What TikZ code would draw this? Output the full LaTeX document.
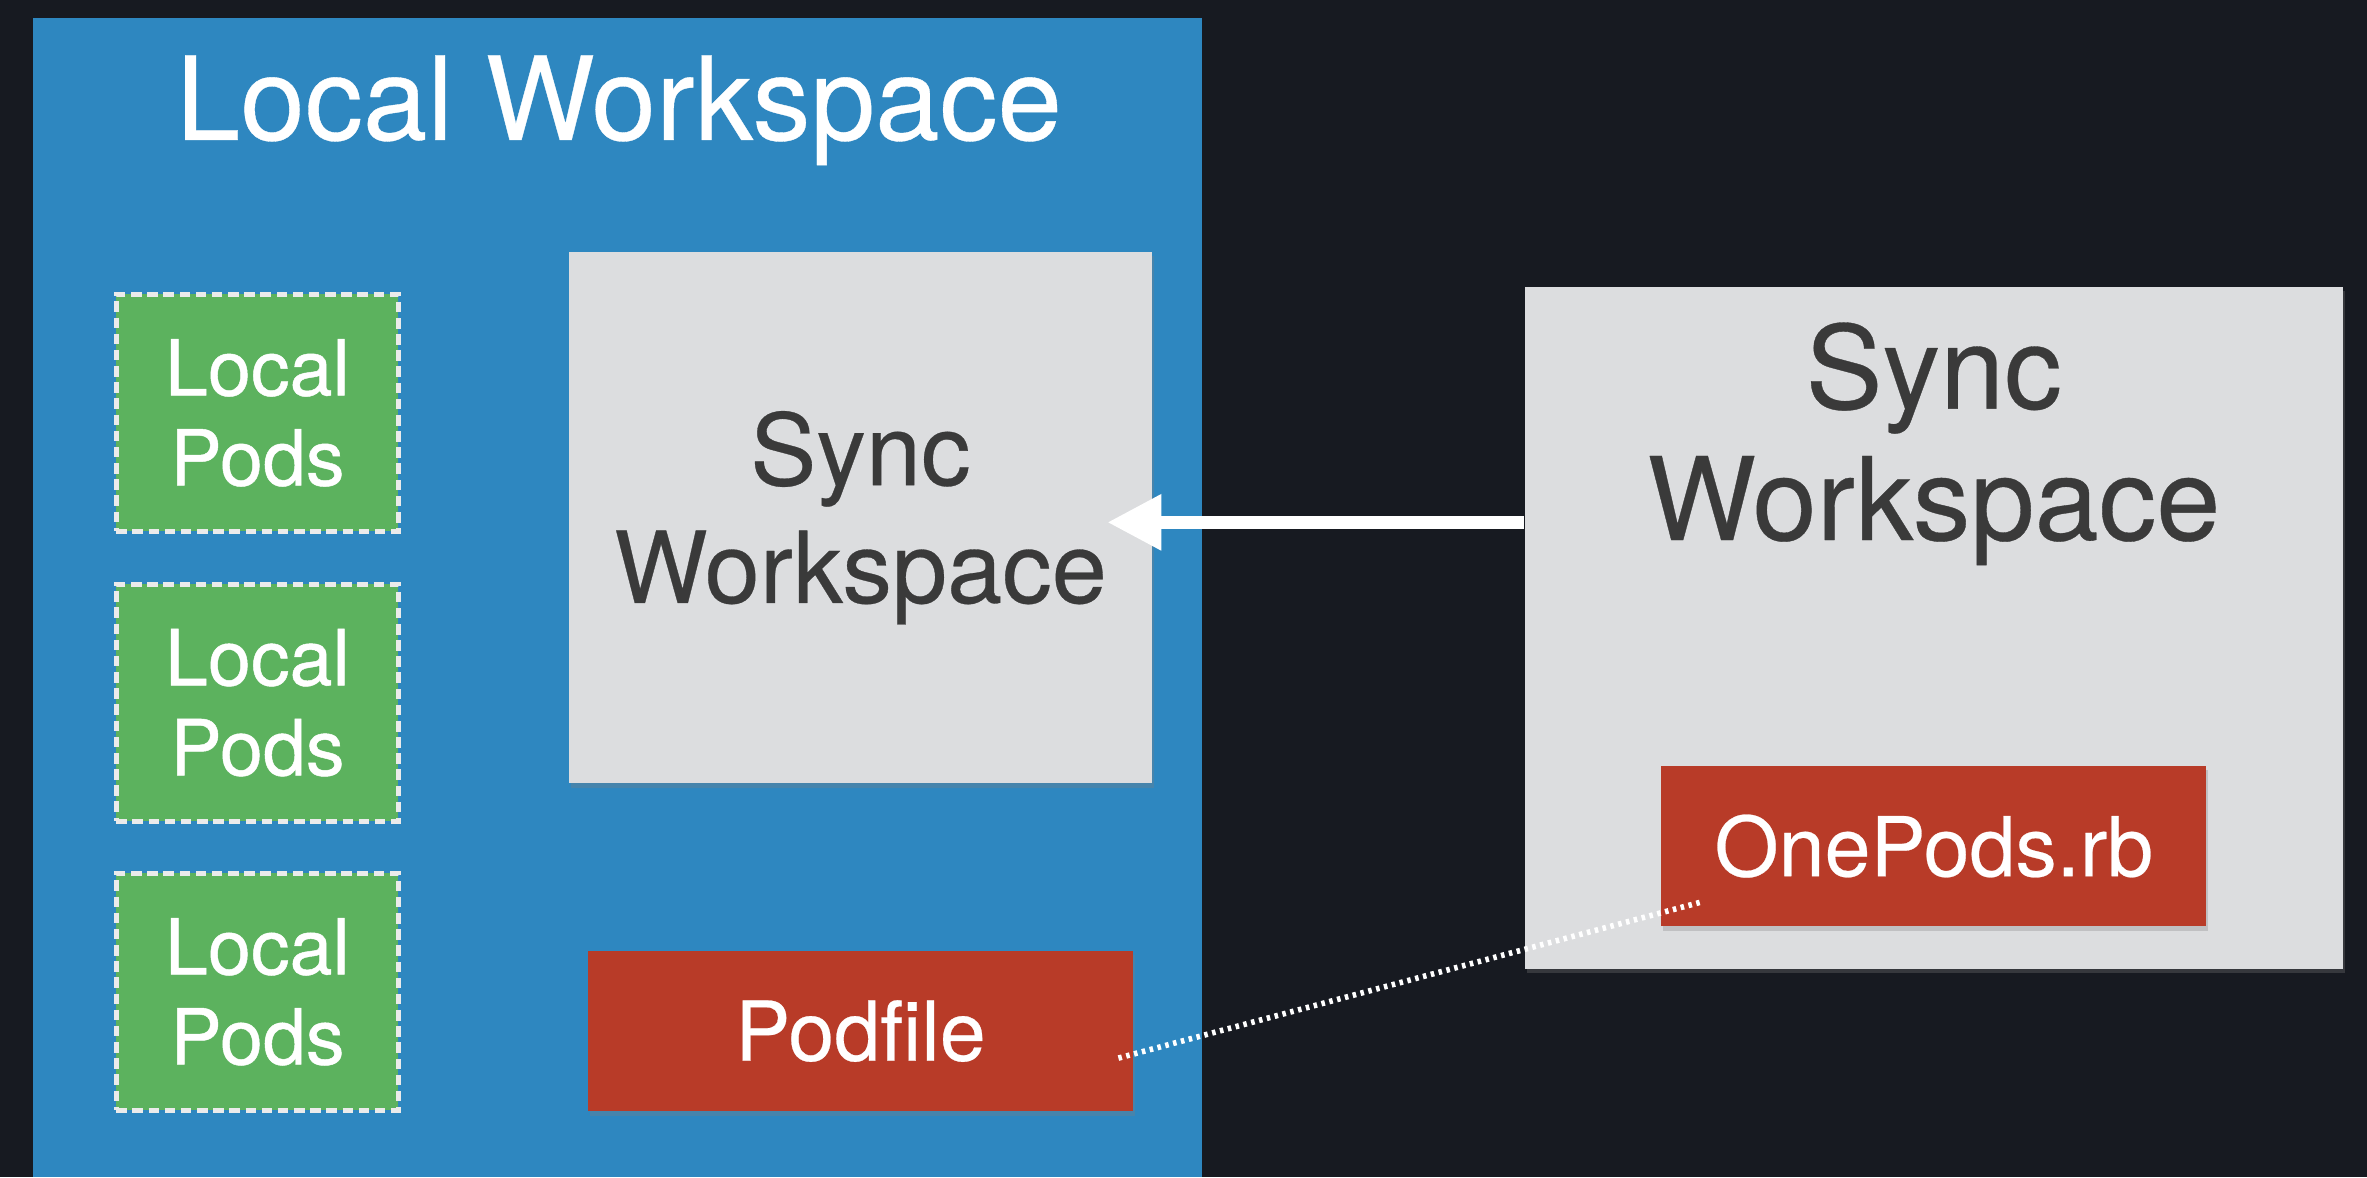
\documentclass[tikz,border=0pt]{standalone}
\usepackage{fontspec}
\setmainfont{TeX Gyre Heros}
\newfontface\podschrift{TeX Gyre Heros}[FakeBold=0.6]
\newfontface\halbfett{TeX Gyre Heros}[FakeBold=0.3]
\usetikzlibrary{arrows.meta,shadows}
\definecolor{hintergrund}{HTML}{171A21}
\definecolor{lokalblau}{HTML}{2E87C0}
\definecolor{podgruen}{HTML}{5CB25E}
\definecolor{syncgrau}{HTML}{DCDDDF}
\definecolor{dateirot}{HTML}{B83B28}
\definecolor{schrift}{HTML}{3A3A3A}
\begin{document}
\begin{tikzpicture}[x=0.4295pt,y=-0.4295pt,
  schatten/.style={drop shadow={opacity=0.3,shadow xshift=0.6pt,shadow yshift=-1.2pt}},
  pods/.style={fill=podgruen,draw=white!92!black,line width=1.5pt,dash pattern=on 3pt off 1.6pt,
    inner sep=0pt,minimum width=80.3pt,minimum height=67.4pt,align=center,text=white,
    font=\podschrift\fontsize{22}{25.6}\selectfont},
  sync/.style={schatten,fill=syncgrau,inner sep=0pt,align=center,text=schrift},
  datei/.style={schatten,fill=dateirot,inner sep=0pt,minimum width=155pt,minimum height=45.7pt,
    text=white,font=\halbfett\fontsize{23.5}{27}\selectfont}]
  \useasboundingbox (0,0) rectangle (1568,780);
  \fill[hintergrund] (0,0) rectangle (1568,780);
  %Lokaler Workspace
  \fill[lokalblau] (22,12) rectangle (796,780);
  \node[text=white,font=\halbfett\fontsize{33}{38}\selectfont] (titel) at (410,73) {Local Workspace};
    \node[pods] (pods1) at (170.5,273.5) {Local\\Pods};
    \node[pods] (pods2) at (170.5,465.5) {Local\\Pods};
    \node[pods] (pods3) at (170.5,657) {Local\\Pods};
    \node[sync,minimum width=165.8pt,minimum height=151.2pt,
      font=\halbfett\fontsize{28.2}{33.5}\selectfont] (sync) at (570,343) {Sync\\Workspace};
    \node[datei] (podfile) at (570,683) {Podfile};
  %Entfernter Workspace
  \node[sync,minimum width=232.8pt,minimum height=194.1pt] (remote) at (1281,416) {};
    \node[text=schrift,align=center,font=\halbfett\fontsize{32.8}{37.4}\selectfont] (remotetext) at (1281,294) {Sync\\Workspace};
    \node[datei] (onepods) at (1281,560.5) {OnePods.rb};
  %Verbindungen
    \draw[white,line width=3.7pt,-{Triangle[length=15.4pt,width=15pt]}]
      ([yshift=-1.3pt]sync.east -| remote.west) -- ([xshift=-12.9pt,yshift=-1.3pt]sync.east);
    \draw[white,line width=1.6pt,dash pattern=on 1pt off 1.3pt]
      ([xshift=-4.3pt,yshift=-7.7pt]podfile.east) -- ([xshift=11.6pt,yshift=-15.9pt]onepods.west);
\end{tikzpicture}
\end{document}
